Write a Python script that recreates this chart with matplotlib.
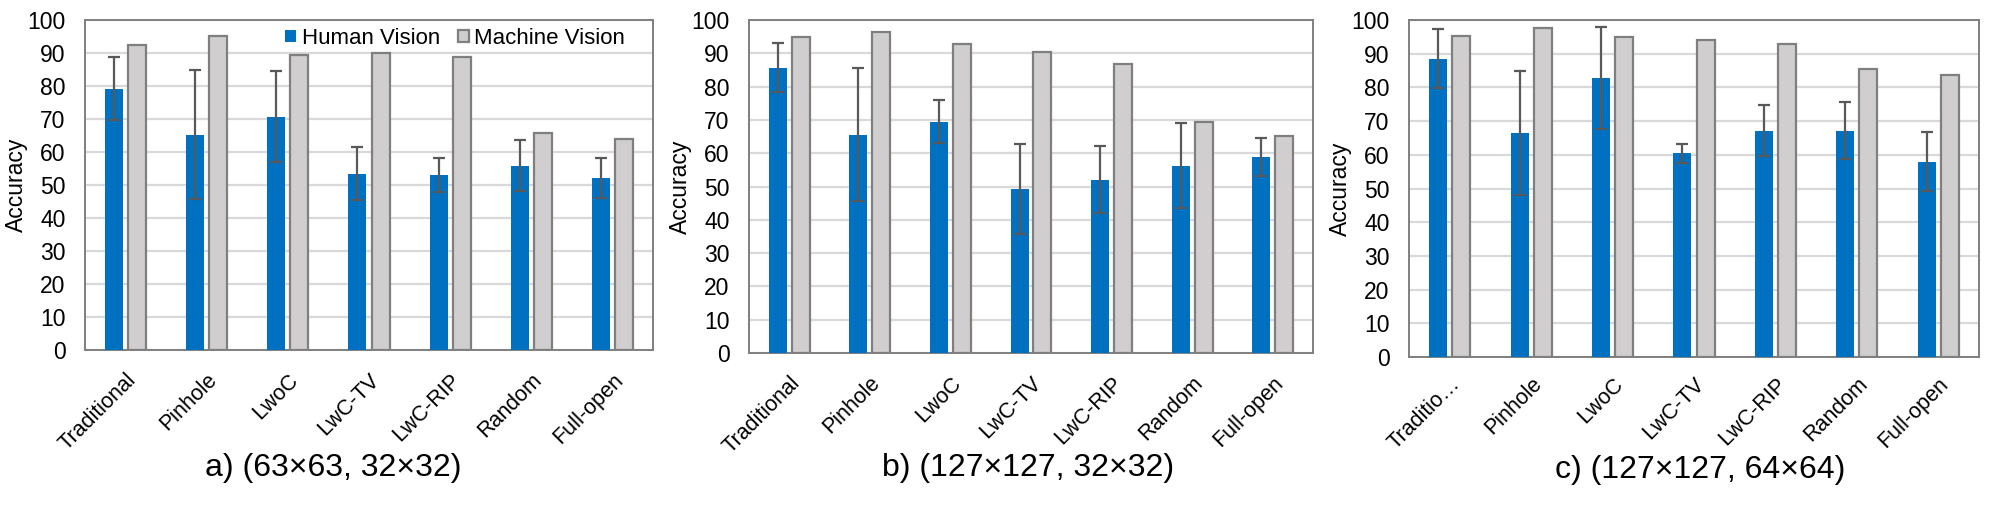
import numpy as np
import matplotlib
matplotlib.use("Agg")
from matplotlib import pyplot as plt

plt.rcParams['font.family'] = ['Liberation Sans', 'DejaVu Sans']

# categories on the x axis (panel c has the truncated first label)
categories = ["Traditional", "Pinhole", "LwoC", "LwC-TV", "LwC-RIP", "Random", "Full-open"]
categories_c = ["Traditio\u2026", "Pinhole", "LwoC", "LwC-TV", "LwC-RIP", "Random", "Full-open"]

# a) (63x63, 32x32)
human_a = [79.2, 65.3, 70.7, 53.4, 53.1, 55.9, 52.2]
human_err_a = [9.5, 19.6, 13.7, 8.0, 5.2, 7.8, 6.1]
machine_a = [92.3, 95.1, 89.3, 89.9, 88.7, 65.9, 63.8]

# b) (127x127, 32x32)
human_b = [85.7, 65.6, 69.5, 49.3, 52.0, 56.3, 59.0]
human_err_b = [7.4, 20.0, 6.5, 13.6, 10.1, 12.9, 5.7]
machine_b = [94.8, 96.3, 92.7, 90.3, 86.7, 69.3, 65.1]

# c) (127x127, 64x64)
human_c = [88.5, 66.6, 82.9, 60.4, 67.2, 67.2, 58.0]
human_err_c = [8.8, 18.4, 15.1, 2.8, 7.6, 8.4, 8.7]
machine_c = [95.2, 97.5, 94.9, 94.0, 92.8, 85.4, 83.6]

subtitles = ["a) (63\u00d763, 32\u00d732)", "b) (127\u00d7127, 32\u00d732)", "c) (127\u00d7127, 64\u00d764)"]

BLUE = "#0070c0"
GRAY = "#d0cece"
EDGE = "#7f7f7f"
ERR = "#595959"
GRID = "#d9d9d9"

W, H = 2000, 512
fig = plt.figure(figsize=(W / 100, H / 100), dpi=100)

# axes boxes in pixels: left, right, top, bottom
boxes = [(85, 653, 20, 350), (749, 1313, 20, 353), (1409, 1979, 20, 357)]
subtitle_x = [333, 1028, 1700]
subtitle_y = [468, 468, 470]
xlabel_pad = [14, 14, 12]

panels = [
    (human_a, human_err_a, machine_a, categories),
    (human_b, human_err_b, machine_b, categories),
    (human_c, human_err_c, machine_c, categories_c),
]

for i, (human, err, machine, cats) in enumerate(panels):
    l, r, t, b = boxes[i]
    ax = fig.add_axes([l / W, (H - b) / H, (r - l) / W, (b - t) / H])
    x = np.arange(len(cats))
    w = 0.222
    ax.bar(x - 0.142, human, w, color=BLUE, label="Human Vision", zorder=3)
    ax.bar(x + 0.142, machine, w, color=GRAY, edgecolor=EDGE, linewidth=1.6,
           label="Machine Vision", zorder=3)
    ax.errorbar(x - 0.142, human, yerr=err, fmt='none', ecolor=ERR,
                elinewidth=1.6, capsize=4, capthick=1.6, zorder=4)

    ax.set_xlim(-0.5, len(cats) - 0.5)
    ax.set_ylim(0, 100)
    ax.set_yticks(range(0, 101, 10))
    ax.yaxis.grid(True, color=GRID, linewidth=1.6, zorder=0)
    ax.set_axisbelow(True)
    for s in ax.spines.values():
        s.set_color(EDGE)
        s.set_linewidth(1.4)
    ax.tick_params(axis='y', length=0, pad=14, labelsize=16.5, labelcolor='#000000')
    ax.tick_params(axis='x', length=0, pad=xlabel_pad[i])
    ax.set_xticks(x)
    ax.set_xticklabels(cats, rotation=45, ha='right', rotation_mode='anchor', fontsize=15.5)

    ax.text(-68.5 / (r - l), 0.5, "Accuracy", transform=ax.transAxes, rotation=90,
            ha='center', va='center', fontsize=16.5)

    fig.text(subtitle_x[i] / W, (H - subtitle_y[i]) / H, subtitles[i],
             ha='center', va='center', fontsize=23)

    if i == 0:
        ax.legend(loc='upper right', bbox_to_anchor=(0.965, 1.0), ncol=2, frameon=False,
                  fontsize=16, handlelength=0.5, handleheight=0.5, handletextpad=0.25,
                  columnspacing=0.8, borderaxespad=0, borderpad=0.35)

fig.savefig("out.png", dpi=100)
